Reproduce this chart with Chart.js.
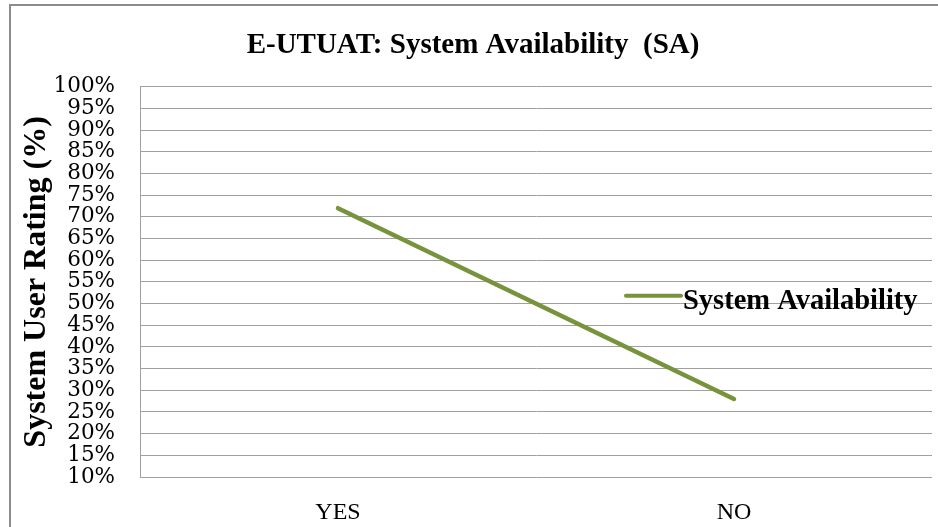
<!DOCTYPE html>
<html>
<head>
<meta charset="utf-8">
<script src="https://cdn.jsdelivr.net/npm/chart.js@4.4.1/dist/chart.umd.min.js"></script>
<style>
  html, body { margin: 0; padding: 0; background: #fff; }
  #wrap { position: relative; width: 938px; height: 527px; overflow: hidden; }
  #frame { position: absolute; left: 9px; top: 4px; right: -10px; bottom: -10px;
           border-left: 2px solid #8c8c8c; border-top: 2px solid #8c8c8c; }
  canvas { position: absolute; left: 0; top: 0; }
</style>
</head>
<body>
<div id="wrap">
  <div id="frame"></div>
  <canvas id="chart" width="938" height="527"></canvas>
</div>
<script>
// values
const categories = ['YES', 'NO'];
const availability = [72, 28];
const seriesName = 'System Availability';
const chartTitle = 'E-UTUAT: System Availability  (SA)';
const yTitle = 'System User Rating (%)';

const green = '#77933C';
const serif = "'Liberation Serif', 'DejaVu Serif', serif";

// legend sits inside the plot area on the right, like the Excel original
const insideLegend = {
  id: 'insideLegend',
  afterDraw(chart) {
    const ctx = chart.ctx;
    const area = chart.chartArea;
    const ds = chart.data.datasets[0];
    const x = area.right - 306;
    const y = area.top + 209;
    ctx.save();
    ctx.strokeStyle = ds.borderColor;
    ctx.lineWidth = 4;
    ctx.lineCap = 'round';
    ctx.beginPath();
    ctx.moveTo(x, y);
    ctx.lineTo(x + 55, y);
    ctx.stroke();
    ctx.fillStyle = '#000';
    ctx.font = 'bold 28.5px ' + serif;
    ctx.textBaseline = 'middle';
    ctx.fillText(ds.label, x + 57, y + 6);
    ctx.restore();
  }
};

new Chart(document.getElementById('chart'), {
  type: 'line',
  data: {
    labels: categories,
    datasets: [{
      label: seriesName,
      data: availability,
      borderColor: green,
      backgroundColor: green,
      borderWidth: 4.5,
      borderCapStyle: 'round',
      pointRadius: 0,
      tension: 0,
      fill: false
    }]
  },
  options: {
    responsive: false,
    animation: false,
    layout: { padding: { left: 14, right: 6, top: 0, bottom: 0 } },
    plugins: {
      legend: { display: false },
      tooltip: { enabled: false },
      title: {
        display: true,
        text: chartTitle,
        color: '#000',
        font: { family: serif, size: 29, weight: 'bold' },
        padding: { top: 28, bottom: 24 }
      }
    },
    scales: {
      x: {
        offset: true,
        grid: { display: false },
        border: { display: false },
        ticks: { color: '#000', font: { family: serif, size: 24 }, padding: 13 },
        afterFit(scale) { scale.height = 50; }
      },
      y: {
        min: 10,
        max: 100,
        ticks: {
          stepSize: 5,
          autoSkip: false,
          color: '#000',
          padding: 25,
          font: { family: "'DejaVu Serif', serif", size: 21.5 },
          callback: v => v + '%'
        },
        grid: { color: '#a0a0a0', lineWidth: 1, drawTicks: false },
        border: { display: true, color: '#a0a0a0', width: 1 },
        title: {
          display: true,
          text: yTitle,
          color: '#000',
          font: { family: serif, size: 32, weight: 'bold' },
          padding: { top: 4, bottom: 0 }
        },
        afterFit(scale) { scale.width = 126; }
      }
    }
  },
  plugins: [insideLegend]
});
</script>
</body>
</html>
